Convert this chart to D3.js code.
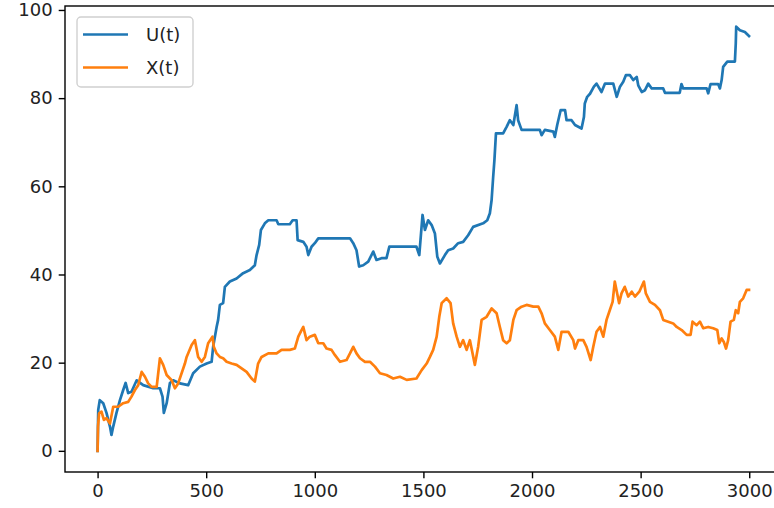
<!DOCTYPE html>
<html>
<head>
<meta charset="utf-8">
<script src="https://cdn.jsdelivr.net/npm/d3@7"></script>
<style>
  html, body { margin: 0; padding: 0; background: #fff; }
  svg { display: block; }
  text { font-family: "DejaVu Sans", sans-serif; }
</style>
</head>
<body>
<svg id="chart" width="774" height="508"></svg>
<script>
// U(t): time steps and values
const uTimes = [0,3,10,26,41,57,64,72,87,103,118,129,141,156,180,210,256,287,299,305,318,333,348,379,417,440,471,502,525,532,548,555,563,578,586,609,640,670,701,724,732,744,752,770,786,824,832,885,898,916,921,947,962,970,985,1000,1016,1162,1177,1192,1204,1223,1246,1269,1284,1307,1330,1343,1468,1481,1496,1507,1522,1538,1553,1564,1576,1599,1614,1637,1660,1683,1706,1729,1775,1794,1806,1814,1821,1827,1834,1867,1883,1898,1914,1929,1936,1952,2036,2044,2059,2098,2105,2116,2132,2152,2159,2182,2198,2228,2239,2243,2254,2267,2285,2297,2320,2336,2374,2390,2405,2420,2432,2451,2466,2482,2489,2505,2520,2535,2551,2604,2612,2680,2688,2696,2804,2811,2822,2857,2865,2873,2880,2899,2934,2938,2940,2957,2980,2999];
const uValues = [0,9.3,11.5,10.8,8.6,5.5,3.6,5.5,8.6,11.5,13.8,15.4,13.1,13.4,16,14.9,14.2,14.2,12.3,8.6,10.8,15.4,16,15.3,14.9,17.6,19.1,19.8,20.2,23.6,28.1,29.7,33.1,33.5,37.2,38.4,39.1,40.3,41,42.1,44.4,46.7,50.1,51.6,52.3,52.3,51.4,51.4,52.3,52.3,47.8,47.4,46.3,44.4,46.3,47.1,48.2,48.2,47.1,45.5,41.8,42.1,42.9,45.2,43.3,43.7,43.7,46.3,46.3,44.4,53.5,50.1,52.3,51.2,49.3,44,42.5,44.4,45.5,45.9,47.1,47.4,48.9,50.8,51.6,52.3,53.9,56.9,62,66,72,72,73.5,75,73.9,78.4,75,72.8,72.8,71.6,72.8,72.4,71.2,73.9,77.3,77.3,75,75,73.9,73.1,75.7,78.8,80.3,81,82.6,83.3,81.4,83.3,83.3,80.3,82.6,83.7,85.2,85.2,84.1,84.8,82.9,81.4,81.8,83.3,82.2,82.2,81.2,81.2,83.2,82.2,82.2,81.1,83.2,83.2,82.2,84.1,87.1,88.3,88.3,92.4,96.2,95.4,95,94.1];

// X(t): time steps and values
const xTimes = [0,2,7,18,29,41,57,72,95,118,141,156,172,187,203,218,233,249,272,287,302,318,341,356,371,402,410,433,448,463,479,494,509,529,535,548,563,578,594,617,640,663,686,709,724,739,755,786,824,847,885,908,924,939,947,962,977,1000,1016,1039,1054,1077,1093,1116,1146,1162,1177,1192,1208,1231,1254,1277,1300,1330,1361,1392,1423,1468,1492,1515,1530,1545,1561,1573,1584,1607,1625,1637,1653,1668,1683,1699,1714,1737,1752,1768,1791,1814,1837,1852,1867,1883,1898,1914,1929,1952,1975,2006,2029,2044,2059,2082,2105,2121,2136,2152,2167,2190,2198,2213,2236,2251,2270,2282,2297,2313,2328,2343,2358,2371,2381,2392,2401,2412,2427,2443,2459,2474,2494,2515,2524,2543,2566,2589,2604,2627,2650,2666,2689,2712,2730,2739,2758,2773,2788,2811,2834,2853,2862,2873,2883,2893,2903,2914,2929,2938,2949,2957,2972,2988,2999];
const xValues = [0,5.5,8.5,8.9,7,7.4,6.2,10,10,10.8,11.1,12.3,13.8,14.9,17.9,16.8,15.3,14.5,14.5,21,19.5,17.2,16,14.2,15.3,19.8,21.3,24,25.1,21.3,20.2,21.3,24.4,25.9,23.6,22.1,21.3,21,20.2,19.8,19.5,18.7,17.9,16.4,15.7,19.8,21.3,22.1,22.1,22.9,22.9,23.2,25.9,27.4,28.1,25.1,25.9,26.3,24.4,24.4,23.2,22.9,21.7,20.2,20.6,22.1,23.6,22.1,21,20.2,20.2,19.1,17.6,17.2,16.4,16.8,16.1,16.4,18.3,19.8,21.3,22.9,25.9,30.4,33.5,34.6,33.5,28.9,25.9,23.6,25.1,22.9,25.1,19.5,23.6,29.7,30.4,32.3,31.2,28.1,25.1,24.4,25.1,29.7,31.9,32.7,33.1,32.7,32.7,31.2,28.9,27.4,25.9,22.9,27,27,27,25.1,23.2,25.1,25.1,23.6,20.6,23.6,27,28.1,25.9,29.7,31.9,33.8,38.4,35.7,33.5,35.7,37.2,35,36.1,35,36.1,38.4,35.7,33.8,33.1,31.9,29.7,29.3,28.9,28.1,27.4,26.3,26.3,29.3,28.5,29.3,27.8,28.1,27.8,27.4,24.4,25.5,24.7,23.2,25.1,29.3,29.7,31.9,31.2,33.8,34.6,36.5,36.5];

const seriesNames = ["U(t)", "X(t)"];
const seriesColors = ["#1f77b4", "#ff7f0e"];
const xTickValues = [0, 500, 1000, 1500, 2000, 2500, 3000];
const yTickValues = [0, 20, 40, 60, 80, 100];

const series = [
  { name: seriesNames[0], color: seriesColors[0], points: uTimes.map((t, i) => [t, uValues[i]]) },
  { name: seriesNames[1], color: seriesColors[1], points: xTimes.map((t, i) => [t, xValues[i]]) }
];

const svg = d3.select("#chart");
const plot = { left: 65, top: 6, right: 781.6, bottom: 472 };

const x = d3.scaleLinear().domain([-150, 3149]).range([plot.left, plot.right]);
const y = d3.scaleLinear().domain([-4.8, 100.9]).range([plot.bottom, plot.top]);

const fontSize = 18;
const tickLen = 6.3;
const tickPad = 6;

// Data lines, clipped to the axes area
svg.append("defs").append("clipPath").attr("id", "plot-clip")
  .append("rect")
  .attr("x", plot.left).attr("y", plot.top)
  .attr("width", plot.right - plot.left).attr("height", plot.bottom - plot.top);

const line = d3.line().x(d => x(d[0])).y(d => y(d[1]));

svg.append("g").attr("clip-path", "url(#plot-clip)")
  .selectAll("path")
  .data(series)
  .join("path")
  .attr("d", d => line(d.points))
  .attr("fill", "none")
  .attr("stroke", d => d.color)
  .attr("stroke-width", 2.7)
  .attr("stroke-linejoin", "round")
  .attr("stroke-linecap", "square");

// Axes
const xAxis = d3.axisBottom(x).tickValues(xTickValues).tickSize(tickLen).tickPadding(tickPad).tickFormat(d3.format("d"));
const yAxis = d3.axisLeft(y).tickValues(yTickValues).tickSize(tickLen).tickPadding(tickPad).tickFormat(d3.format("d"));

const gx = svg.append("g").attr("transform", `translate(0,${plot.bottom})`).call(xAxis);
const gy = svg.append("g").attr("transform", `translate(${plot.left},0)`).call(yAxis);

[gx, gy].forEach(g => {
  g.select(".domain").remove();
  g.selectAll(".tick line").attr("stroke", "#000").attr("stroke-width", 1.4);
  g.selectAll(".tick text")
    .attr("fill", "#222")
    .style("font-size", fontSize + "px")
    .style("font-family", "'DejaVu Sans', sans-serif");
});

// Frame (spines)
svg.append("rect")
  .attr("x", plot.left).attr("y", plot.top)
  .attr("width", plot.right - plot.left).attr("height", plot.bottom - plot.top)
  .attr("fill", "none").attr("stroke", "#000").attr("stroke-width", 1.4);

// Legend
const legend = svg.append("g").attr("transform", "translate(77,17)");
legend.append("rect")
  .attr("width", 116).attr("height", 70).attr("rx", 4).attr("ry", 4)
  .attr("fill", "#fff").attr("fill-opacity", 0.8)
  .attr("stroke", "#d0d0d0").attr("stroke-width", 1.4);

const items = legend.selectAll("g.item").data(series).join("g")
  .attr("class", "item")
  .attr("transform", (d, i) => `translate(0,${17.5 + i * 33})`);

items.append("line")
  .attr("x1", 6).attr("x2", 51).attr("y1", 0).attr("y2", 0)
  .attr("stroke", d => d.color).attr("stroke-width", 2.7);

items.append("text")
  .attr("x", 69).attr("y", 0).attr("dy", "0.36em")
  .attr("fill", "#222")
  .style("font-size", fontSize + "px")
  .text(d => d.name);
</script>
</body>
</html>
